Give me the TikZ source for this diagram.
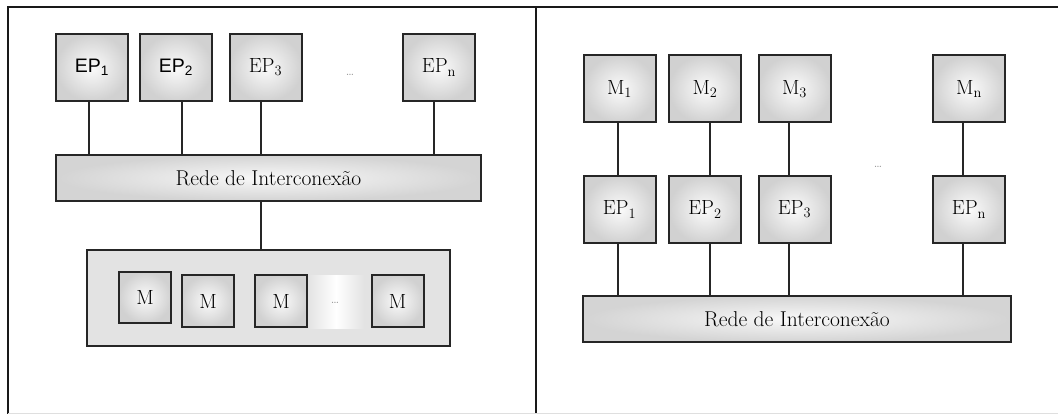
\documentclass[tikz,border=0pt]{standalone}
\usepackage{fontspec}
\newfontfamily\sansf{Liberation Sans}
\begin{document}
\begin{tikzpicture}[x=1pt,y=-1pt,
  unitbox/.style={draw=black!85, line width=2pt, shade, inner color=gray!3,
    outer color=gray!36, minimum width=72pt, minimum height=67pt, inner sep=0pt,
    font=\fontsize{20.5}{22}\selectfont},
  membox/.style={unitbox, minimum width=52pt, minimum height=51pt},
  netbar/.style={draw=black!85, line width=2pt, shade, inner color=gray!5,
    outer color=gray!34, inner sep=0pt, font=\fontsize{21.5}{24}\selectfont},
  link/.style={line width=2pt, draw=black!85},
  frameline/.style={line width=2.4pt, draw=black!90},
  sanslabel/.style={font=\sansf\fontsize{19.5}{22}\selectfont},
  ellip/.style={font=\fontsize{13}{14}\selectfont, text=gray!85, inner sep=0pt}]
\useasboundingbox (0,0) rectangle (1058,414);
\fill[white] (0,0) rectangle (1058,414);

% outer frame and divider
\draw[frameline] (7,7) -- (1058,7);
\draw[frameline] (8,7) -- (8,414);
\draw[frameline] (536,7) -- (536,414);
\draw[gray!25, line width=1pt] (8,413) -- (1058,413);

% ---------- shared-memory organisation ----------
\node[unitbox, sanslabel] (lep1) at (92,67.5)   {EP\textsubscript{1}};
\node[unitbox, sanslabel] (lep2) at (176,67.5)  {EP\textsubscript{2}};
\node[unitbox] (lep3) at (265.5,67.5){EP\textsubscript{3}};
\node[ellip]   (ldots) at (350,75)   {\dots};
\node[unitbox] (lepn) at (439,67.5)  {EP\textsubscript{n}};

\node[netbar, minimum width=425pt, minimum height=46pt] (lnet) at (268.5,178)
  {Rede de Interconex\~ao};

\node[draw=black!85, line width=2pt, fill=gray!22, minimum width=363pt,
  minimum height=96pt, inner sep=0pt] (mem) at (268.5,298) {};
\shade[left color=gray!22, right color=gray!22, middle color=white] (308,276) rectangle (364,328);
\node[membox] (m1) at (145,297.5) {M};
\node[membox] (m2) at (208,301)   {M};
\node[membox] (m3) at (281,301)   {M};
\node[ellip]  (mdots) at (335,303){\dots};
\node[membox] (m4) at (397.5,301) {M};

\draw[link] ([xshift=-3pt]lep1.south) -- ([xshift=-3pt]lep1.south |- lnet.north);
\draw[link] ([xshift=6pt]lep2.south) -- ([xshift=6pt]lep2.south |- lnet.north);
\draw[link] ([xshift=-4.5pt]lep3.south) -- ([xshift=-4.5pt]lep3.south |- lnet.north);
\draw[link] ([xshift=-5pt]lepn.south) -- ([xshift=-5pt]lepn.south |- lnet.north);
\draw[link] ([xshift=-7.5pt]lnet.south) -- ([xshift=-7.5pt]lnet.south |- mem.north);

% ---------- distributed-memory organisation ----------
\node[unitbox] (rm1) at (619.5,89) {M\textsubscript{1}};
\node[unitbox] (rm2) at (705,89)   {M\textsubscript{2}};
\node[unitbox] (rm3) at (794.5,89) {M\textsubscript{3}};
\node[unitbox] (rmn) at (969,89)   {M\textsubscript{n}};

\node[unitbox] (rep1) at (619.5,209.5) {EP\textsubscript{1}};
\node[unitbox] (rep2) at (705,209.5)   {EP\textsubscript{2}};
\node[unitbox] (rep3) at (794.5,209.5) {EP\textsubscript{3}};
\node[ellip]   (rdots) at (878,167)    {\dots};
\node[unitbox] (repn) at (969,209.5)   {EP\textsubscript{n}};

\node[netbar, minimum width=428pt, minimum height=46pt] (rnet) at (797,319)
  {Rede de Interconex\~ao};

\draw[link] ([xshift=-1.5pt]rm1.south) -- ([xshift=-1.5pt]rep1.north);
\draw[link] ([xshift=5pt]rm2.south)    -- ([xshift=5pt]rep2.north);
\draw[link] ([xshift=-5.5pt]rm3.south) -- ([xshift=-5.5pt]rep3.north);
\draw[link] ([xshift=-6pt]rmn.south)   -- ([xshift=-6pt]repn.north);

\draw[link] ([xshift=-1.5pt]rep1.south) -- ([xshift=-1.5pt]rep1.south |- rnet.north);
\draw[link] ([xshift=5pt]rep2.south)    -- ([xshift=5pt]rep2.south |- rnet.north);
\draw[link] ([xshift=-5.5pt]rep3.south) -- ([xshift=-5.5pt]rep3.south |- rnet.north);
\draw[link] ([xshift=-6pt]repn.south)   -- ([xshift=-6pt]repn.south |- rnet.north);
\end{tikzpicture}
\end{document}
